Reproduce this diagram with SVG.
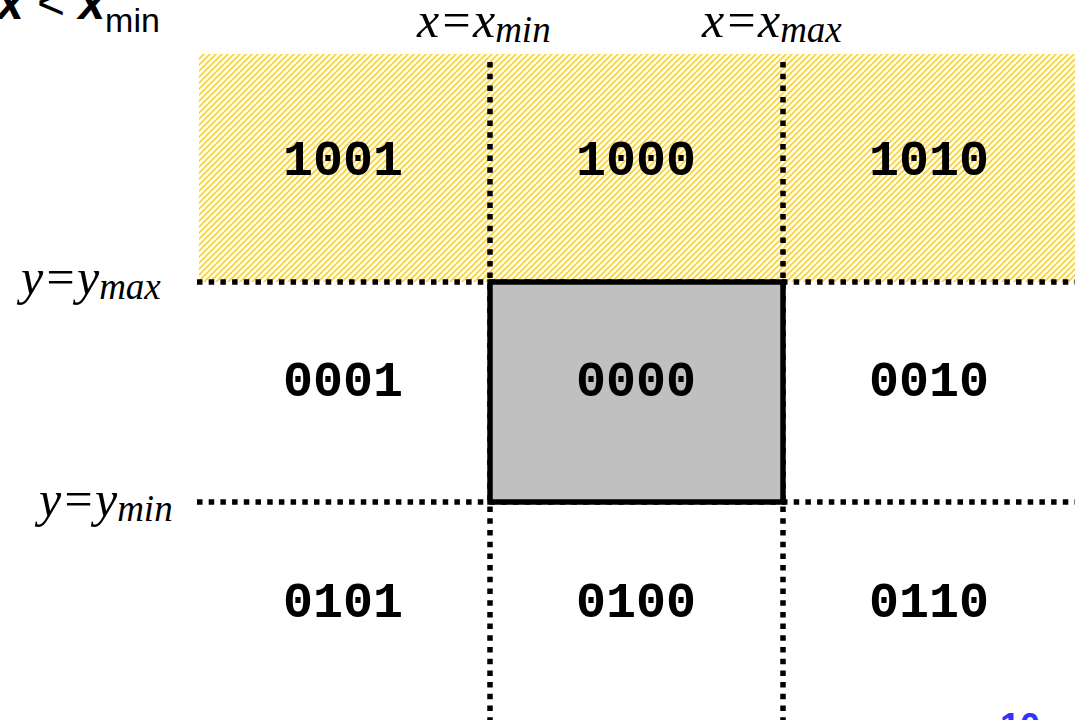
<svg xmlns="http://www.w3.org/2000/svg" width="1075" height="720" viewBox="0 0 1075 720">
<defs>
<pattern id="hatch" patternUnits="userSpaceOnUse" width="6" height="6">
<rect width="6" height="6" fill="#ffffff"/>
<path d="M-1,7 L7,-1 M-1,1 L1,-1 M5,7 L7,5" stroke="#f7cf2a" stroke-width="1.8" stroke-opacity="0.9"/>
</pattern>
<style>
.code{font-family:"Liberation Mono","Courier New",monospace;font-weight:bold;font-size:50px;fill:#000;text-anchor:middle}
.math{font-family:"Liberation Serif","Times New Roman",serif;font-style:italic;fill:#000}
.dot{stroke:#000;stroke-width:5.5;stroke-dasharray:5.5 6.2;fill:none}
</style>
</defs>
<rect x="0" y="0" width="1075" height="720" fill="#ffffff"/>
<rect id="outside-top" x="199" y="54" width="876" height="228" fill="url(#hatch)"/>
<g id="connectors">
<line class="dot" x1="197" y1="282" x2="1075" y2="282"/>
<line class="dot" x1="197" y1="502" x2="1075" y2="502"/>
<line class="dot" x1="490" y1="62" x2="490" y2="720"/>
<line class="dot" x1="783" y1="62" x2="783" y2="720"/>
</g>
<g id="window">
<rect x="490" y="282" width="293" height="220" fill="#c0c0c0" stroke="#000" stroke-width="5.5"/>
</g>
<g id="c1001"><text class="code" x="343" y="175">1001</text></g>
<g id="c1000"><text class="code" x="636" y="175">1000</text></g>
<g id="c1010"><text class="code" x="929" y="175">1010</text></g>
<g id="c0001"><text class="code" x="343" y="396">0001</text></g>
<g id="c0000"><text class="code" x="636" y="396">0000</text></g>
<g id="c0010"><text class="code" x="929" y="396">0010</text></g>
<g id="c0101"><text class="code" x="343" y="617">0101</text></g>
<g id="c0100"><text class="code" x="636" y="617">0100</text></g>
<g id="c0110"><text class="code" x="929" y="617">0110</text></g>
<g id="labels">
<text class="math" x="417" y="37" font-size="50">x=x<tspan font-size="37" dy="5">min</tspan></text>
<text class="math" x="702" y="37" font-size="50">x=x<tspan font-size="37" dy="5">max</tspan></text>
<text class="math" x="21" y="294" font-size="50">y=y<tspan font-size="37" dy="5">max</tspan></text>
<text class="math" x="39" y="516" font-size="50">y=y<tspan font-size="37" dy="5">min</tspan></text>
<text x="-3" y="19" font-family="Liberation Sans, Arial, sans-serif" font-size="48" fill="#000"><tspan font-weight="bold" font-style="italic">x</tspan> &lt; <tspan font-weight="bold" font-style="italic">x</tspan><tspan font-size="34" dy="13">min</tspan></text>
<text x="1000" y="739" font-family="Liberation Sans, Arial, sans-serif" font-weight="bold" font-size="36" fill="#3333ff">10</text>
</g>
</svg>
